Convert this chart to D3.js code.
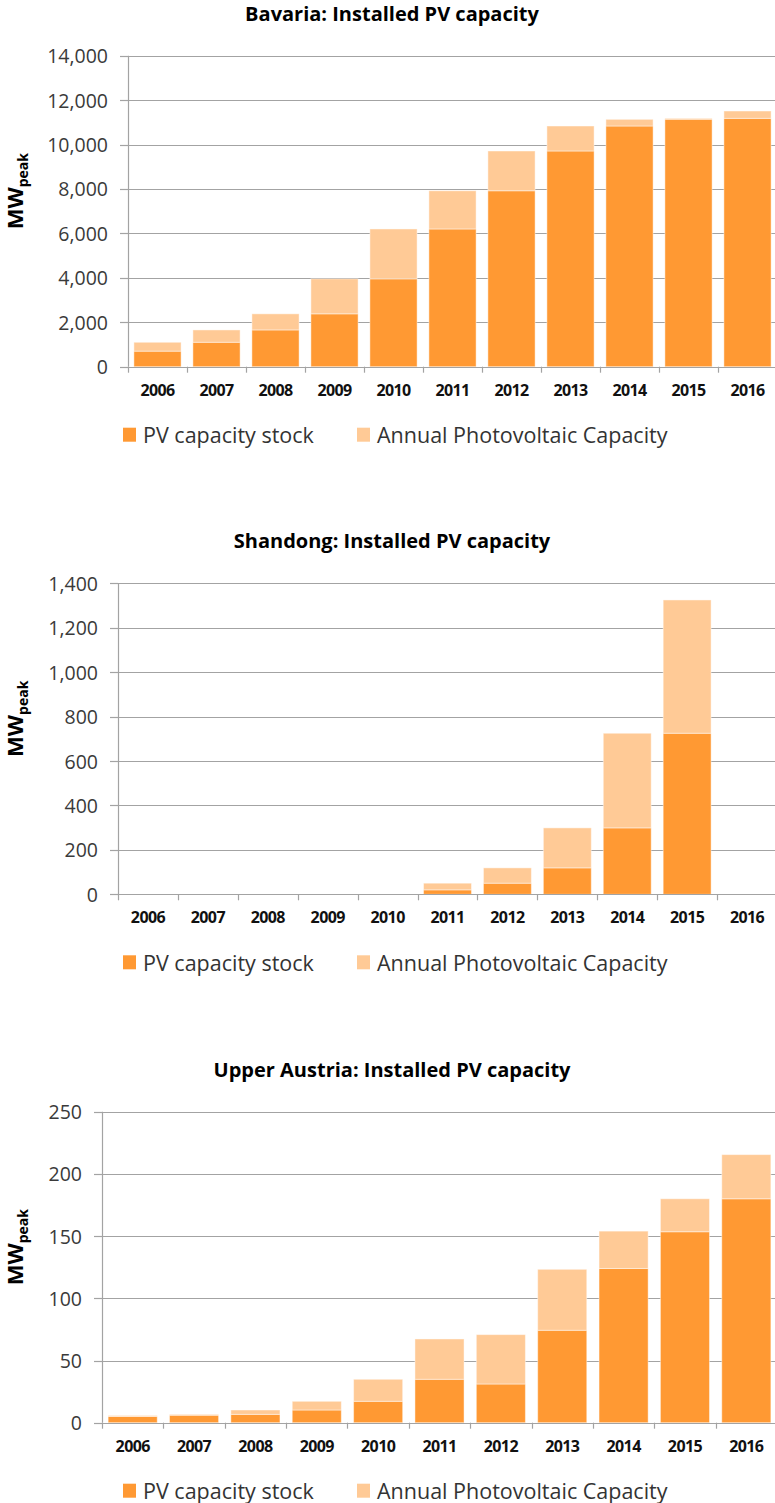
<!DOCTYPE html>
<html lang="en">
<head>
<meta charset="utf-8">
<script src="https://d3js.org/d3.v7.min.js"></script>
<style>
  body { margin: 0; background: #fff; }
  svg text { font-family: "Open Sans", "Noto Sans", sans-serif; }
</style>
</head>
<body>
<script>
  // data
  var years = ["2006", "2007", "2008", "2009", "2010", "2011", "2012", "2013", "2014", "2015", "2016"];
  var seriesNames = ["PV capacity stock", "Annual Photovoltaic Capacity"];

  var bavariaStock  = [700, 1100, 1655, 2380, 3955, 6200, 7920, 9710, 10835, 11140, 11180];
  var bavariaAnnual = [400, 555, 725, 1575, 2245, 1720, 1790, 1125, 300, 40, 330];

  var shandongStock  = [0, 0, 0, 0, 0, 20, 50, 119, 299, 725, 0];
  var shandongAnnual = [0, 0, 0, 0, 0, 30, 69, 180, 426, 600, 0];

  var austriaStock  = [5, 6, 6.7, 10.2, 17.2, 34.9, 31.1, 74.3, 124, 153.5, 180];
  var austriaAnnual = [0.8, 0.7, 3.5, 7, 17.7, 32.4, 39.7, 49, 30, 26.5, 35.5];

  var bavariaTicks  = [0, 2000, 4000, 6000, 8000, 10000, 12000, 14000];
  var shandongTicks = [0, 200, 400, 600, 800, 1000, 1200, 1400];
  var austriaTicks  = [0, 50, 100, 150, 200, 250];

  var width = 775, height = 1503;
  var colors = ["#ff9933", "#ffca96"];
  var gridColor = "#a3a3a3";

  var svg = d3.select("body").append("svg")
    .attr("width", width)
    .attr("height", height);

  // one stacked bar chart
  function drawChart(title, stock, annual, ticks, left, top, bottom) {
    var right = 777;
    var g = svg.append("g");

    var x = d3.scaleBand().domain(years).range([left, right])
      .paddingInner(0.2).paddingOuter(0.1);
    var y = d3.scaleLinear().domain([0, d3.max(ticks)]).range([bottom, top]);

    // gridlines
    g.selectAll(".grid").data(ticks.slice(1)).join("line")
      .attr("x1", left).attr("x2", right)
      .attr("y1", function(d) { return Math.round(y(d)) + 0.5; })
      .attr("y2", function(d) { return Math.round(y(d)) + 0.5; })
      .attr("stroke", gridColor).attr("stroke-width", 1.2);

    // y tick marks + labels
    g.selectAll(".ytick").data(ticks).join("line")
      .attr("x1", left - 8).attr("x2", left)
      .attr("y1", function(d) { return Math.round(y(d)) + 0.5; })
      .attr("y2", function(d) { return Math.round(y(d)) + 0.5; })
      .attr("stroke", gridColor).attr("stroke-width", 1.2);
    g.selectAll(".ylab").data(ticks).join("text")
      .attr("x", left - 20)
      .attr("y", function(d) { return y(d); })
      .attr("text-anchor", "end")
      .attr("dominant-baseline", "central")
      .attr("font-size", 19.5)
      .attr("fill", "#3a3a3a")
      .text(function(d) { return d3.format(",")(d); });

    // stacked bars
    var rows = years.map(function(yr, i) {
      return { year: yr, stock: stock[i], annual: annual[i] };
    });
    var stacked = d3.stack().keys(["stock", "annual"])(rows);
    g.selectAll(".layer").data(stacked).join("g")
      .attr("fill", function(d, i) { return colors[i]; })
      .selectAll("rect").data(function(d) { return d; }).join("rect")
      .attr("x", function(d) { return x(d.data.year); })
      .attr("width", x.bandwidth())
      .attr("y", function(d) { return y(d[1]); })
      .attr("height", function(d) { return y(d[0]) - y(d[1]); })
      .attr("stroke", "rgba(255,255,255,0.45)")
      .attr("stroke-width", 1);

    // axes lines
    g.append("line")
      .attr("x1", left + 0.5).attr("x2", left + 0.5)
      .attr("y1", top).attr("y2", bottom)
      .attr("stroke", gridColor).attr("stroke-width", 1.2);
    g.append("line")
      .attr("x1", left).attr("x2", right)
      .attr("y1", Math.round(bottom) + 0.5).attr("y2", Math.round(bottom) + 0.5)
      .attr("stroke", gridColor).attr("stroke-width", 1.2);

    // x tick marks at category boundaries
    var bounds = d3.range(years.length + 1).map(function(i) { return left + i * x.step(); });
    g.selectAll(".xtick").data(bounds).join("line")
      .attr("x1", function(d) { return Math.round(d) + 0.5; })
      .attr("x2", function(d) { return Math.round(d) + 0.5; })
      .attr("y1", bottom).attr("y2", bottom + 6)
      .attr("stroke", gridColor).attr("stroke-width", 1.2);

    g.selectAll(".xlab").data(years).join("text")
      .attr("x", function(d) { return x(d) + x.bandwidth() / 2; })
      .attr("y", bottom + 23)
      .attr("text-anchor", "middle")
      .attr("dominant-baseline", "central")
      .attr("font-size", 16)
      .attr("font-weight", "bold")
      .attr("letter-spacing", -0.6)
      .attr("fill", "#111")
      .text(function(d) { return d; });

    // title
    g.append("text")
      .attr("x", 392).attr("y", top - 35)
      .attr("text-anchor", "middle")
      .attr("font-size", 20)
      .attr("font-weight", "bold")
      .attr("fill", "#000")
      .text(title);

    // y axis title MW_peak
    var yt = g.append("text")
      .attr("transform", "translate(23," + ((top + bottom) / 2 - 20) + ") rotate(-90)")
      .attr("text-anchor", "middle")
      .attr("font-weight", "bold")
      .attr("fill", "#000");
    yt.append("tspan").attr("font-size", 22).text("MW");
    yt.append("tspan").attr("font-size", 14).attr("dy", 5).text("peak");

    // legend
    var ly = bottom + 68;
    var lx = [123, 357];
    seriesNames.forEach(function(name, i) {
      g.append("rect")
        .attr("x", lx[i]).attr("y", ly - 7)
        .attr("width", 13).attr("height", 14)
        .attr("fill", colors[i]);
      g.append("text")
        .attr("x", lx[i] + 20).attr("y", ly)
        .attr("dominant-baseline", "central")
        .attr("font-size", 21.5)
        .attr("fill", "#333")
        .text(name);
    });
  }

  drawChart("Bavaria: Installed PV capacity", bavariaStock, bavariaAnnual, bavariaTicks, 128, 55.7, 366.7);
  drawChart("Shandong: Installed PV capacity", shandongStock, shandongAnnual, shandongTicks, 118, 583.3, 894.3);
  drawChart("Upper Austria: Installed PV capacity", austriaStock, austriaAnnual, austriaTicks, 102, 1111.7, 1422.7);
</script>
</body>
</html>
